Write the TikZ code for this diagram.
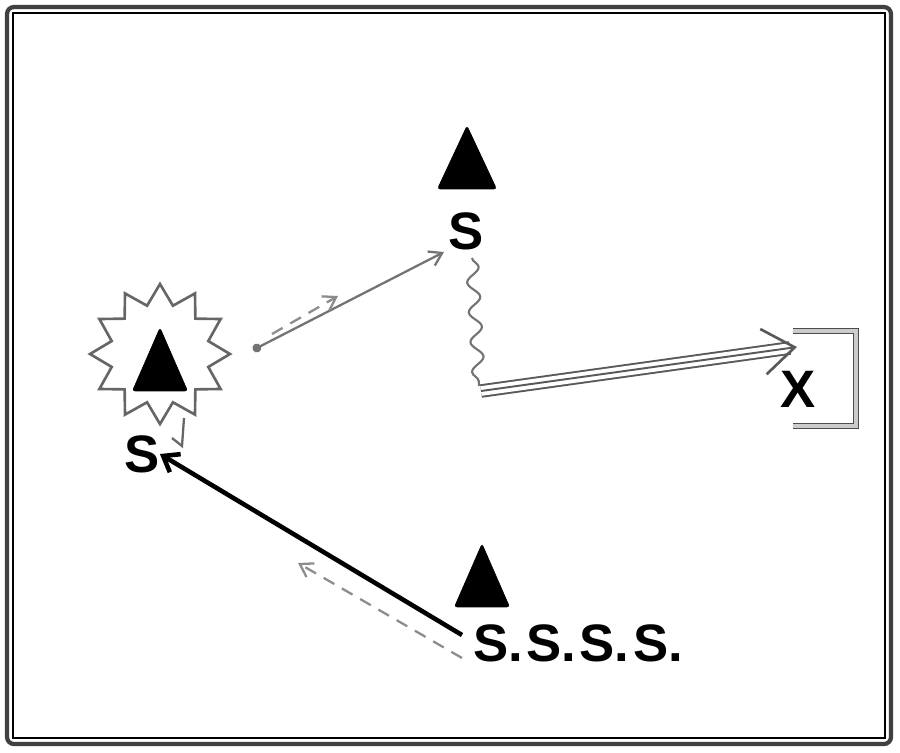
\documentclass[tikz,border=0pt]{standalone}
\usepackage{fontspec}
\setmainfont{Liberation Sans}
\usetikzlibrary{shapes.geometric,arrows.meta,decorations.pathmorphing}
\begin{document}
\begin{tikzpicture}[x=0.02cm,y=-0.02cm,
		cone/.style={isosceles triangle,isosceles triangle stretches,shape border rotate=90,
			fill=black,draw=black,rounded corners=1.5pt,inner sep=0pt,minimum height=1.26cm,minimum width=1.1cm,anchor=apex},
		lab/.style={font=\fontsize{30}{30}\selectfont\bfseries,inner sep=0pt},
		pass/.style={draw=black!55,line width=1.3pt},
		run/.style={draw=black!45,line width=1.3pt,dashed,dash pattern=on 7pt off 5pt}]
	\useasboundingbox (0,0) rectangle (900,752);
	% frame
	\draw[black!75,line width=2.4pt,rounded corners=4pt] (7,7) rectangle (891,744);
	\draw[black,line width=0.7pt] (13,13) rectangle (885,738);
	% players
	\node[star,star points=12,star point ratio=1.4,minimum size=2.8cm,draw=black!60,line width=1.5pt,inner sep=0pt] (burst) at (160,354) {};
	\node[cone] (c1) at (160,327) {};
	\node[cone,minimum width=1.18cm] (c2) at (467,125) {};
	\node[cone] (c3) at (482,543) {};
	\node[lab] (s1) at (142,454) {S};
	\node[lab] (s2) at (466,231) {S};
	\node[lab] (sss) at (578,643) {S.\kern2pt S.\kern2pt S.\kern2pt S.};
	\node[lab] (x) at (798,389) {X};
	% goal
	\draw[black!70,line width=0.8pt,double=black!20,double distance=1.8pt] (793,331) -| (856,426) -- (793,426);
	% moves
	\coordinate (p0) at (253,350);
	\coordinate (p1) at (444,252);
	\path[pass,{Circle[length=5pt]}-{Straight Barb[length=7pt,width=9pt]}] (p0)--(p1);
	\coordinate (r0) at (272,334);
	\coordinate (r1) at (338,296);
	\path[run,-{Straight Barb[length=7pt,width=9pt]}] (r0)--(r1);
	\coordinate (d0) at (472,258);
	\coordinate (d1) at (479,386);
	\path[draw=black!55,line width=1.2pt,decorate,decoration={snake,amplitude=3.5pt,segment length=17pt}] (d0)--(d1);
	\coordinate (k0) at (481,391);
	\coordinate (k1) at (790,348);
	\path[draw=black!65,line width=1.1pt,double=white,double distance=5.5pt] (k0)--(k1);
	\path[draw=black!65,line width=1.1pt,-{Straight Barb[length=18pt,width=26pt,line width=1.5pt]}] (k0)--(797,347);
	\coordinate (b0) at (462,635);
	\path[draw=black,line width=2.6pt,-{Straight Barb[length=8pt,width=12pt]}] (b0)--(s1.east);
	\coordinate (q0) at (462,658);
	\coordinate (q1) at (298,563);
	\path[run,-{Straight Barb[length=7pt,width=9pt]}] (q0)--(q1);
	\coordinate (t0) at (184,418);
	\coordinate (t1) at (182,446);
	\path[draw=black!60,line width=1.3pt] (t0)--(t1)--(172,438);
\end{tikzpicture}
\end{document}
